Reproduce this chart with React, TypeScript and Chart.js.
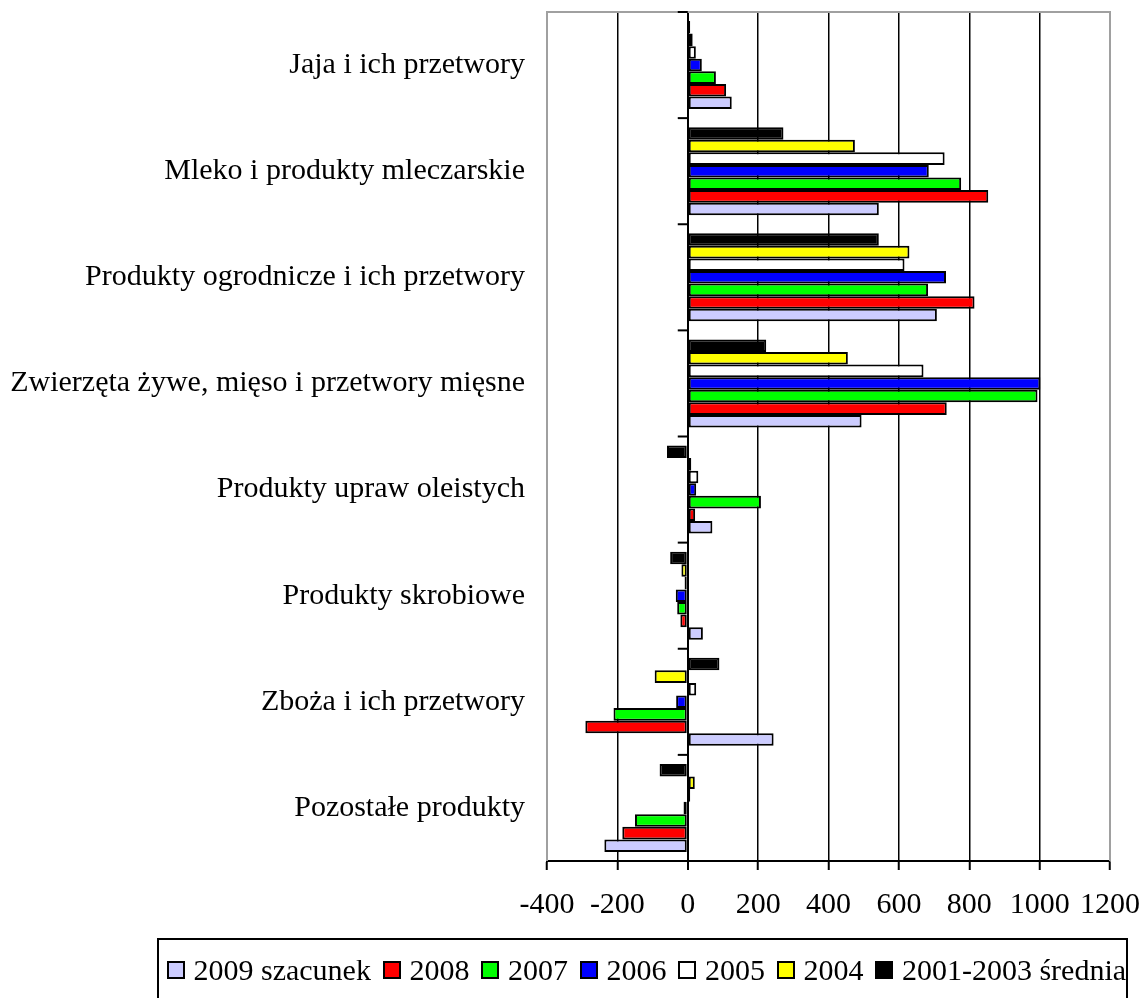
import { useEffect, useRef } from 'react';
import { Chart, registerables } from 'chart.js';

Chart.register(...registerables);

const categories = [
  'Jaja i ich przetwory',
  'Mleko i produkty mleczarskie',
  'Produkty ogrodnicze i ich przetwory',
  'Zwierzęta żywe, mięso i przetwory mięsne',
  'Produkty upraw oleistych',
  'Produkty skrobiowe',
  'Zboża i ich przetwory',
  'Pozostałe produkty',
];

const xTicks = [-400, -200, 0, 200, 400, 600, 800, 1000, 1200];

const avg2001_2003 = [7, 272, 543, 223, -59, -50, 90, -80];
const y2004 = [14, 475, 630, 455, 10, -18, -94, 20];
const y2005 = [23, 730, 616, 670, 30, -9, 24, 7];
const y2006 = [40, 685, 734, 1002, 24, -34, -33, -12];
const y2007 = [80, 777, 683, 994, 208, -30, -211, -150];
const y2008 = [109, 854, 815, 736, 21, -21, -291, -186];
const y2009 = [125, 543, 708, 494, 70, 43, 244, -237];

const seriesLabels = ['2001-2003 średnia', '2004', '2005', '2006', '2007', '2008', '2009 szacunek'];
const seriesData = [avg2001_2003, y2004, y2005, y2006, y2007, y2008, y2009];
const seriesColors = ['#000000', '#ffff00', '#ffffff', '#0000ff', '#00ff00', '#ff0000', '#ccccff'];

const FONT = '"Liberation Serif", "Times New Roman", serif';

const framePlugin = {
  id: 'frame',
  afterDatasetsDraw(chart: any) {
    const { ctx, chartArea, scales } = chart;
    const { left, right, top, bottom } = chartArea;
    ctx.save();
    ctx.strokeStyle = '#a0a0a0';
    ctx.lineWidth = 2;
    ctx.beginPath();
    ctx.moveTo(left, bottom);
    ctx.lineTo(left, top);
    ctx.lineTo(right, top);
    ctx.lineTo(right, bottom);
    ctx.stroke();
    const x0 = scales.x.getPixelForValue(0);
    ctx.strokeStyle = '#000000';
    ctx.lineWidth = 2;
    for (let i = 0; i <= categories.length; i++) {
      const py = scales.y.getPixelForValue(i - 0.5);
      ctx.beginPath();
      ctx.moveTo(x0 - 10, py);
      ctx.lineTo(x0, py);
      ctx.stroke();
    }
    ctx.restore();
  },
};

export default function App() {
  const ref = useRef<HTMLCanvasElement>(null);

  useEffect(() => {
    const chart = new Chart(ref.current as HTMLCanvasElement, {
      type: 'bar',
      data: {
        labels: categories,
        datasets: seriesLabels.map((label, i) => ({
          label,
          data: seriesData[i],
          backgroundColor: seriesColors[i],
          borderColor: '#000000',
          borderWidth: 2,
          borderSkipped: false,
          categoryPercentage: 0.83,
          barPercentage: 1,
        })),
      },
      options: {
        indexAxis: 'y',
        animation: false,
        responsive: true,
        maintainAspectRatio: false,
        events: [],
        layout: { padding: { left: 0, right: 32, top: 12, bottom: 0 } },
        plugins: {
          legend: { display: false },
          tooltip: { enabled: false },
          title: { display: false },
        },
        scales: {
          x: {
            type: 'linear',
            min: -400,
            max: 1200,
            afterBuildTicks: (s: any) => {
              s.ticks = xTicks.map((v) => ({ value: v }));
            },
            afterFit: (s: any) => {
              s.height = 137;
              s.paddingLeft = 0;
              s.paddingRight = 0;
            },
            ticks: {
              color: '#000000',
              font: { family: FONT, size: 30 },
              padding: 17,
              maxRotation: 0,
              autoSkip: false,
              callback: (v: any) => String(v),
            },
            grid: {
              color: (c: any) =>
                c.tick && (c.tick.value === -400 || c.tick.value === 1200) ? 'rgba(0,0,0,0)' : '#000000',
              lineWidth: (c: any) => (c.tick && c.tick.value === 0 ? 2 : 1.5),
              tickColor: '#000000',
              tickWidth: 2,
              tickLength: 9,
            },
            border: { display: true, color: '#000000', width: 2 },
          },
          y: {
            type: 'category',
            afterFit: (s: any) => {
              s.width = 547;
              s.paddingTop = 0;
              s.paddingBottom = 0;
            },
            ticks: {
              color: '#000000',
              font: { family: FONT, size: 30 },
              padding: 22,
              autoSkip: false,
            },
            grid: { display: false, drawTicks: false },
            border: { display: false },
          },
        },
      },
      plugins: [framePlugin],
    } as any);
    return () => chart.destroy();
  }, []);

  const legendOrder = [6, 5, 4, 3, 2, 1, 0];

  return (
    <div
      style={{
        position: 'absolute',
        left: 0,
        top: 0,
        width: 1142,
        height: 998,
        overflow: 'hidden',
        background: '#ffffff',
      }}
    >
      <div style={{ position: 'absolute', left: 0, top: 0, width: 1142, height: 998 }}>
        <canvas ref={ref} />
      </div>
      <div
        style={{
          position: 'absolute',
          left: 157,
          top: 938,
          width: 971,
          height: 80,
          boxSizing: 'border-box',
          border: '2px solid #000000',
          paddingLeft: 8,
          paddingTop: 15,
          display: 'flex',
          alignItems: 'flex-start',
          fontFamily: FONT,
          fontSize: 30,
          lineHeight: '30px',
          color: '#000000',
          whiteSpace: 'nowrap',
        }}
      >
        {legendOrder.map((i) => (
          <div key={i} style={{ display: 'flex', alignItems: 'center', marginRight: 12 }}>
            <span
              style={{
                display: 'inline-block',
                width: 18,
                height: 18,
                boxSizing: 'border-box',
                border: '2px solid #000000',
                background: seriesColors[i],
                marginRight: 8.5,
              }}
            />
            <span>{seriesLabels[i]}</span>
          </div>
        ))}
      </div>
    </div>
  );
}
